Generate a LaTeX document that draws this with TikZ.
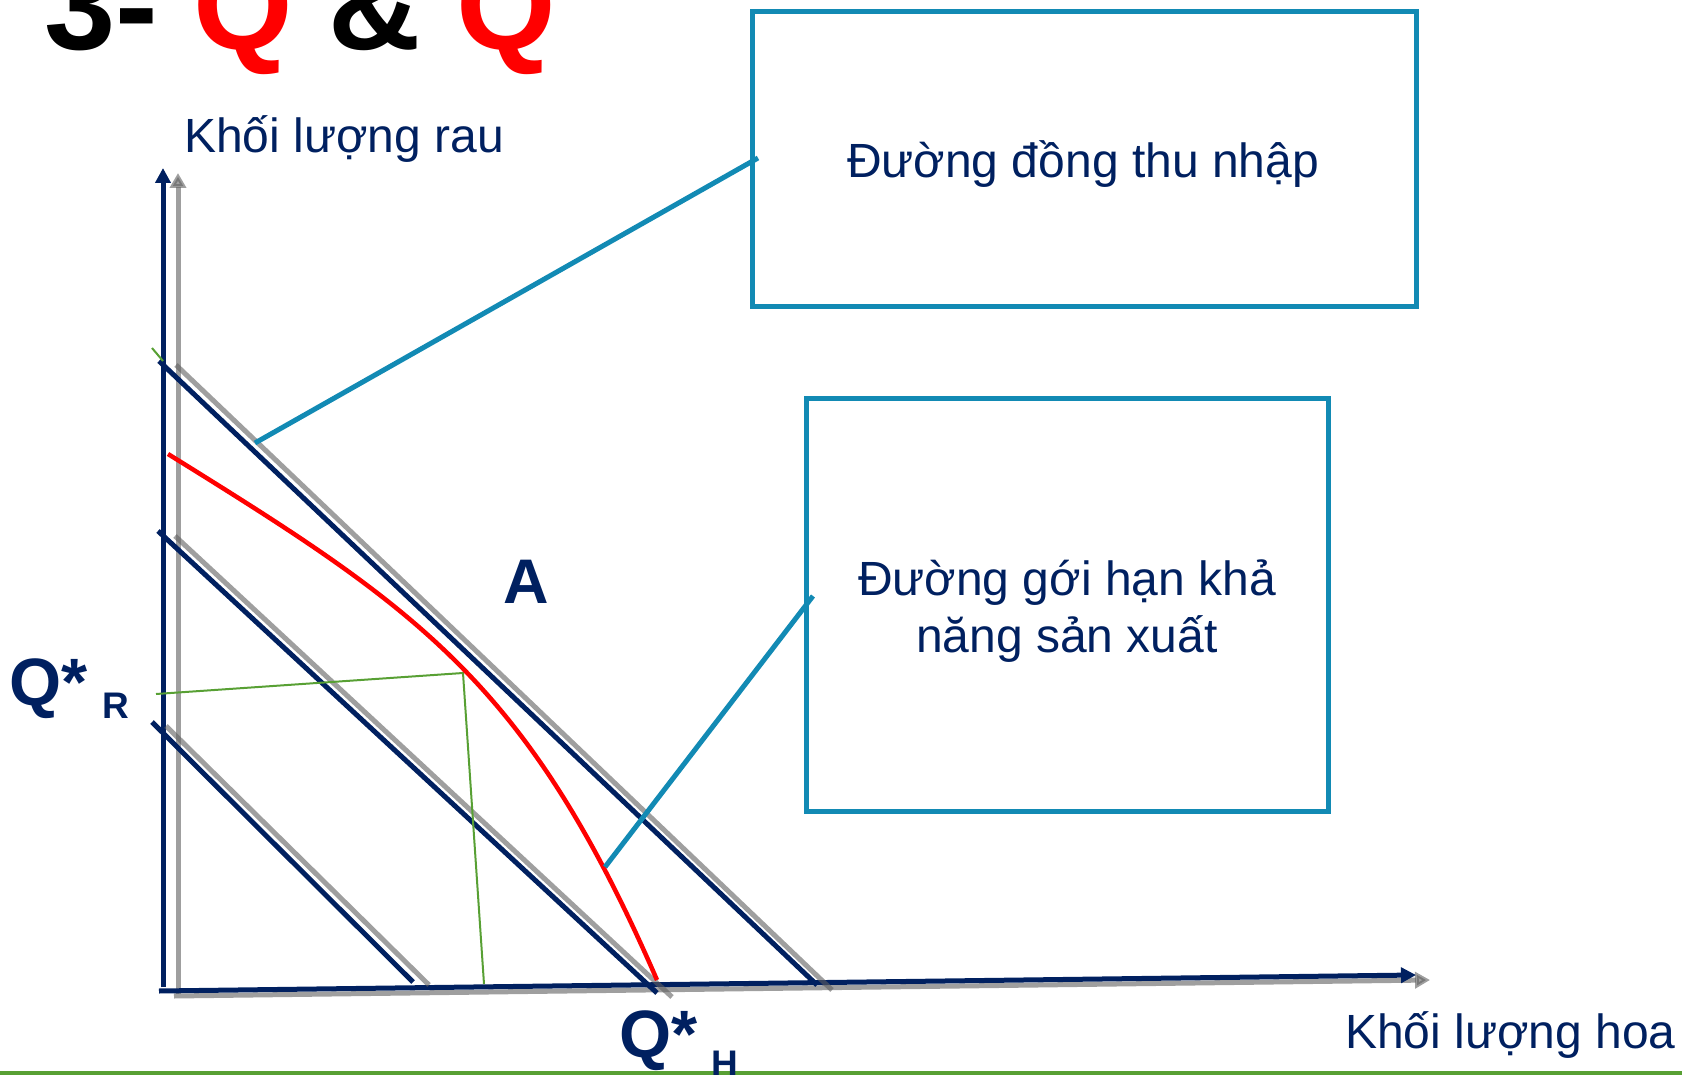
\documentclass[tikz,border=0pt]{standalone}
\usepackage{fontspec}
\setmainfont{Liberation Sans}
\usetikzlibrary{arrows.meta}
\definecolor{navy}{RGB}{0,32,96}
\definecolor{tealc}{RGB}{18,138,180}
\definecolor{shade}{RGB}{95,95,95}
\definecolor{grn}{RGB}{88,160,52}
\tikzset{
  navyline/.style={draw=navy, line width=5pt},
  shadowline/.style={draw=shade, line width=5pt, opacity=0.6},
  axisnavy/.style={navyline, -{Triangle[width=15pt,length=15pt]}},
  axisshadow/.style={shadowline, -{Triangle[width=16pt,length=15pt]}},
  ppf/.style={draw=red, line width=4.5pt},
  callout/.style={draw=tealc, line width=5pt},
  boxc/.style={draw=tealc, line width=5pt, rectangle, inner sep=0pt},
  guide/.style={draw=grn, line width=2pt},
  lbl/.style={text=navy, inner sep=0pt, font=\fontsize{48}{57}\selectfont},
  blbl/.style={text=navy, inner sep=0pt}
}
\begin{document}
\begin{tikzpicture}[x=1pt,y=-1pt]
\useasboundingbox (0,0) rectangle (1682,1075);
\clip (0,0) rectangle (1682,1075);
% title
\node[anchor=base west, inner sep=0pt, font=\bfseries\fontsize{128}{128}\selectfont] (title) at (44,50)
  {3- \textcolor{red}{Q} \& \textcolor{red}{Q}};
% bottom green rule
\draw[draw=grn, line width=4pt] (0,1073) -- (1682,1073);
% axis labels
\node[lbl, anchor=base west] (ylab) at (184,153) {Khối lượng rau};
\node[lbl, anchor=base west] (xlab) at (1345,1048) {Khối lượng hoa};
% axes
\draw[axisshadow] (178,994) -- (178,173);
\draw[axisshadow] (174,996) -- (1430,980);
\draw[axisnavy] (163,987) -- (163,168);
\draw[axisnavy] (159,991) -- (1416,975);
% budget lines (shadow + navy)
\draw[shadowline] (176,365) -- (832,990);
\draw[shadowline] (175,536) -- (672,997);
\draw[shadowline] (166,726) -- (429,985);
\draw[navyline] (159,361) -- (817,985);
\draw[navyline] (158,531) -- (657,993);
\draw[navyline] (152,722) -- (413,982);
% small green tick
\draw[guide] (152,348) -- (163,361);
% green guides to optimum
\coordinate (qr) at (156,694);
\coordinate (opt) at (463,673);
\coordinate (qh) at (484,984);
\draw[guide] (qr) -- (opt) -- (qh);
% production possibility frontier
\coordinate (ppfs) at (168,454);
\coordinate (ppfe) at (657,980);
\draw[ppf] (ppfs) .. controls (418,609) and (527,681) .. (ppfe);
% boxes
\node[boxc, minimum width=664pt, minimum height=295pt] (box1) at (1084,159.5) {};
\node[boxc, minimum width=522pt, minimum height=413pt] (box2) at (1067,604.5) {};
\node[lbl, anchor=base] (b1a) at (1083,178) {Đường đồng thu nhập};
\node[lbl, anchor=base] (b2a) at (1067,595) {Đường gới hạn khả};
\node[lbl, anchor=base] (b2b) at (1067,652) {năng sản xuất};
% callouts
\coordinate (c1s) at (758,158);
\coordinate (c1e) at (255,443);
\coordinate (c2s) at (813,596);
\coordinate (c2e) at (605,867);
\draw[callout] (c1s) -- (c1e);
\draw[callout] (c2s) -- (c2e);
% labels
\node[blbl, anchor=base, font=\bfseries\fontsize{63}{63}\selectfont] (A) at (526,603) {A};
\node[blbl, anchor=base west, font=\bfseries\fontsize{67}{67}\selectfont] (qrs) at (9,705) {Q*};
\node[blbl, anchor=base west, font=\bfseries\fontsize{37}{37}\selectfont] (qrsub) at (102,718) {R};
\node[blbl, anchor=base west, font=\bfseries\fontsize{67}{67}\selectfont] (qhs) at (619,1057) {Q*};
\node[blbl, anchor=base west, font=\bfseries\fontsize{37}{37}\selectfont] (qhsub) at (711,1076) {H};
\end{tikzpicture}
\end{document}
